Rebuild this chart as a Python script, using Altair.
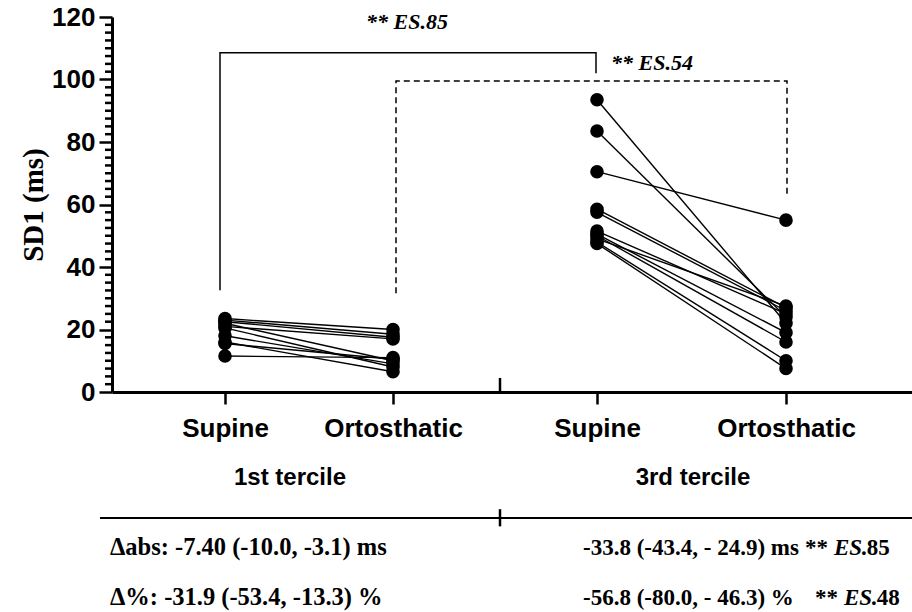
import altair as alt
import pandas as pd

# ---- data ----
cond_labels = ["Supine", "Ortosthatic", "Supine", "Ortosthatic"]
cond_pos = [1.13, 2.81, 4.85, 6.74]

t1_supine = [23.5, 23.0, 22.5, 22.0, 21.0, 20.5, 18.0, 16.0, 15.5, 11.5]
t1_ortho = [20.0, 18.5, 17.5, 10.0, 17.0, 8.0, 9.0, 6.5, 10.5, 11.0]

t3_supine = [93.5, 83.5, 70.5, 58.5, 57.5, 51.5, 50.5, 50.0, 49.0, 48.0, 47.5]
t3_ortho = [22.0, 24.0, 55.0, 27.0, 26.0, 25.0, 19.0, 16.0, 27.5, 10.0, 7.5]

major_ticks = [0, 20, 40, 60, 80, 100, 120]
minor_ticks = [i * 2.5 for i in range(49) if (i * 2.5) % 20 != 0]

# brackets (x in category-position units, y in ms)
solid_x = [1.08, 1.08, 4.84, 4.84]
solid_y = [32.6, 108.6, 108.6, 102.0]
dash_x = [2.84, 2.84, 6.75, 6.75]
dash_y = [31.6, 99.5, 99.5, 63.0]

top_texts = ["** ES.85", "** ES.54"]
top_x = [2.95, 5.40]
top_y = [118.4, 105.3]

tercile_labels = ["1st tercile", "3rd tercile"]
tercile_x = [1.78, 5.81]
tercile_y = [-27.5, -27.5]

left_texts = ["Δabs: -7.40 (-10.0, -3.1) ms", "Δ%: -31.9 (-53.4, -13.3) %"]
left_x = [-0.02, -0.02]
right_texts = ["-33.8 (-43.4, - 24.9) ms", "-56.8 (-80.0, - 46.3) %"]
right_x = [4.71, 4.71]
row_y = [-50.0, -66.0]

es_star = ["**", "**"]
es_star_x = [6.93, 7.03]
es_it = ["ES", "ES"]
es_it_x = [7.22, 7.32]
es_num = [".85", ".48"]
es_num_x = [7.49, 7.59]

sep_x = [3.88]
bottom_line_x = [-0.12, 8.0]
bottom_line_y = [-40.3]

# ---- frames ----
pairs = []
for s, o in zip(t1_supine, t1_ortho):
    pairs.append({"x1": cond_pos[0], "x2": cond_pos[1], "y1": s, "y2": o})
for s, o in zip(t3_supine, t3_ortho):
    pairs.append({"x1": cond_pos[2], "x2": cond_pos[3], "y1": s, "y2": o})
pairs = pd.DataFrame(pairs)

pts = []
for s, o in zip(t1_supine, t1_ortho):
    pts += [{"x": cond_pos[0], "y": s}, {"x": cond_pos[1], "y": o}]
for s, o in zip(t3_supine, t3_ortho):
    pts += [{"x": cond_pos[2], "y": s}, {"x": cond_pos[3], "y": o}]
pts = pd.DataFrame(pts)

label_expr = ("datum.value < 2 ? 'Supine' : datum.value < 3.5 ? 'Ortosthatic' : "
              "datum.value < 5.5 ? 'Supine' : 'Ortosthatic'")

xscale = alt.Scale(domain=[0, 8], nice=False, zero=False)
yscale = alt.Scale(domain=[0, 120], nice=False)

x_axis = alt.Axis(values=cond_pos, labelExpr=label_expr, title=None, grid=False,
                  domainColor="black", domainWidth=3, ticks=True, tickColor="black",
                  tickWidth=2.5, tickSize=12, labelFont="Liberation Sans",
                  labelFontWeight="bold", labelFontSize=26, labelColor="black", labelPadding=11)
y_axis = alt.Axis(values=major_ticks, title="SD1 (ms)", grid=False, domainColor="black",
                  domainWidth=3, ticks=True, tickColor="black", tickWidth=2.5, tickSize=13,
                  labelFont="Liberation Sans", labelFontWeight="bold", labelFontSize=26,
                  labelColor="black", labelPadding=4, titleFont="Liberation Serif",
                  titleFontSize=29, titleFontWeight="bold", titleColor="black", titlePadding=3)

base_lines = alt.Chart(pairs).mark_rule(color="black", strokeWidth=1.4).encode(
    x=alt.X("x1:Q", scale=xscale, axis=x_axis), x2="x2:Q",
    y=alt.Y("y1:Q", scale=yscale, axis=y_axis), y2="y2:Q")

points = alt.Chart(pts).mark_circle(color="black", opacity=1, size=185).encode(
    x=alt.X("x:Q", scale=xscale), y=alt.Y("y:Q", scale=yscale))

# minor ticks on the y axis (0.01 x-unit = 1 px)
minor_df = pd.DataFrame({"y": minor_ticks, "a": -0.07, "b": 0.0})
minor = alt.Chart(minor_df).mark_rule(color="black", strokeWidth=2.5).encode(
    x=alt.X("a:Q", scale=xscale), x2="b:Q", y=alt.Y("y:Q", scale=yscale))

solid_df = pd.DataFrame({"x": solid_x, "y": solid_y, "o": range(4)})
dash_df = pd.DataFrame({"x": dash_x, "y": dash_y, "o": range(4)})
solid = alt.Chart(solid_df).mark_line(color="black", strokeWidth=1.5).encode(
    x=alt.X("x:Q", scale=xscale), y=alt.Y("y:Q", scale=yscale), order="o:Q")
dashed = alt.Chart(dash_df).mark_line(color="black", strokeWidth=1.5, strokeDash=[6, 4]).encode(
    x=alt.X("x:Q", scale=xscale), y=alt.Y("y:Q", scale=yscale), order="o:Q")

top_df = pd.DataFrame({"t": top_texts, "x": top_x, "y": top_y})
top = alt.Chart(top_df).mark_text(font="Liberation Serif", fontSize=22, fontWeight="bold",
                                  fontStyle="italic", color="black").encode(
    x=alt.X("x:Q", scale=xscale), y=alt.Y("y:Q", scale=yscale), text="t:N")

terc_df = pd.DataFrame({"t": tercile_labels, "x": tercile_x, "y": tercile_y})
terc = alt.Chart(terc_df).mark_text(font="Liberation Sans", fontSize=24, fontWeight="bold",
                                   color="black").encode(
    x=alt.X("x:Q", scale=xscale), y=alt.Y("y:Q", scale=yscale), text="t:N")

left_df = pd.DataFrame({"t": left_texts, "x": left_x, "y": row_y})
lefts = alt.Chart(left_df).mark_text(font="Liberation Serif", fontSize=24.5, fontWeight="bold",
                                    align="left", color="black").encode(
    x=alt.X("x:Q", scale=xscale), y=alt.Y("y:Q", scale=yscale), text="t:N")
right_df = pd.DataFrame({"t": right_texts, "x": right_x, "y": row_y})
rights = alt.Chart(right_df).mark_text(font="Liberation Serif", fontSize=23, fontWeight="bold",
                                      align="left", color="black").encode(
    x=alt.X("x:Q", scale=xscale), y=alt.Y("y:Q", scale=yscale), text="t:N")

star_df = pd.DataFrame({"t": es_star, "x": es_star_x, "y": row_y})
stars = alt.Chart(star_df).mark_text(font="Liberation Serif", fontSize=23, fontWeight="bold",
                                    align="left", color="black").encode(
    x=alt.X("x:Q", scale=xscale), y=alt.Y("y:Q", scale=yscale), text="t:N")
it_df = pd.DataFrame({"t": es_it, "x": es_it_x, "y": row_y})
its = alt.Chart(it_df).mark_text(font="Liberation Serif", fontSize=23, fontWeight="bold",
                                fontStyle="italic", align="left", color="black").encode(
    x=alt.X("x:Q", scale=xscale), y=alt.Y("y:Q", scale=yscale), text="t:N")
num_df = pd.DataFrame({"t": es_num, "x": es_num_x, "y": row_y})
nums = alt.Chart(num_df).mark_text(font="Liberation Serif", fontSize=23, fontWeight="bold",
                                  align="left", color="black").encode(
    x=alt.X("x:Q", scale=xscale), y=alt.Y("y:Q", scale=yscale), text="t:N")

bl_df = pd.DataFrame({"x": [bottom_line_x[0]], "x2": [bottom_line_x[1]], "y": bottom_line_y})
bline = alt.Chart(bl_df).mark_rule(color="black", strokeWidth=2).encode(
    x=alt.X("x:Q", scale=xscale), x2="x2:Q", y=alt.Y("y:Q", scale=yscale))

sep_df = pd.DataFrame({"x": sep_x * 2, "y": [4.5, -37.5], "y2": [0.0, -43.0]})
seps = alt.Chart(sep_df).mark_rule(color="black", strokeWidth=2.5).encode(
    x=alt.X("x:Q", scale=xscale), y=alt.Y("y:Q", scale=yscale), y2="y2:Q")

chart = alt.layer(base_lines, points, minor, solid, dashed, top, terc,
                  lefts, rights, stars, its, nums, bline, seps).properties(
    width=800, height=375,
    autosize=alt.AutoSizeParams(type="none"),
    padding={"left": 112, "top": 17, "right": 0, "bottom": 220},
    background="white",
).configure_view(stroke=None)

chart.save("out.html", embed_options={"renderer": "svg", "actions": False})
